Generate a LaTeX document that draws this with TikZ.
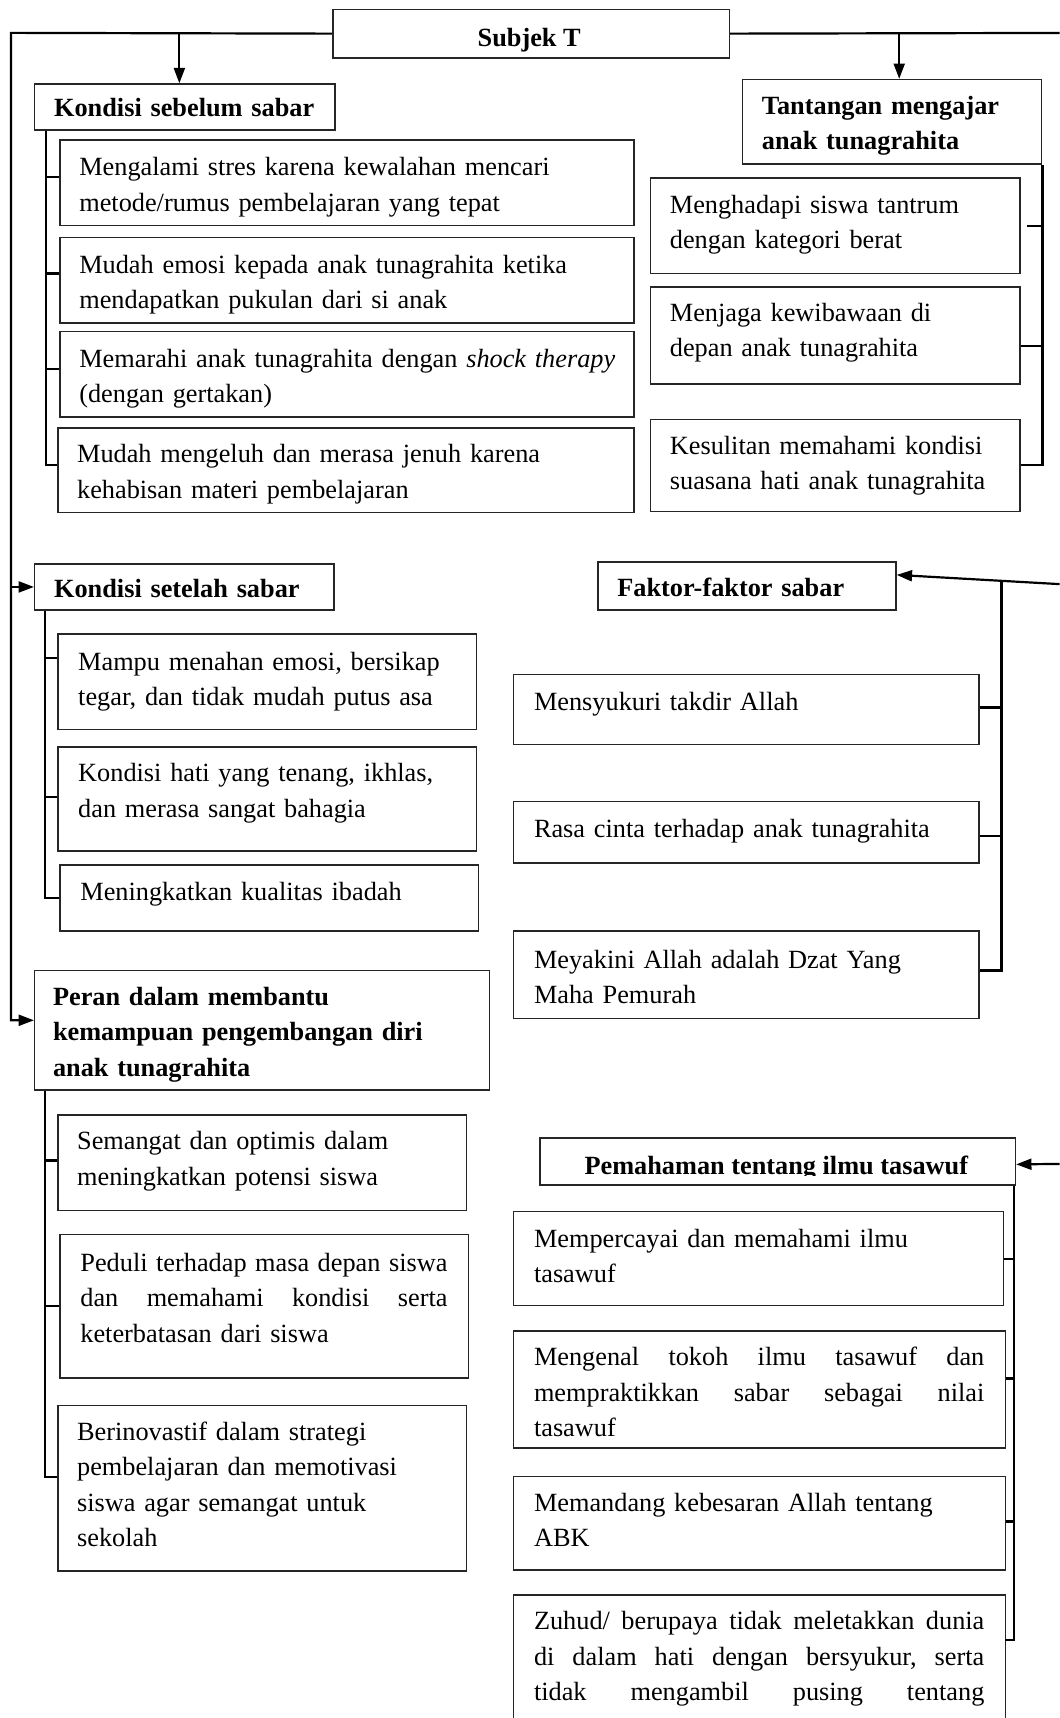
\documentclass[tikz,border=0pt]{standalone}
\usepackage{fontspec}
\setmainfont{Liberation Serif}
\usetikzlibrary{arrows.meta}
\tikzset{
 bx/.style={draw=black!85, line width=0.7pt, inner sep=0pt, anchor=north west},
 tx/.style={inner sep=0pt, anchor=base west, text width=300pt, align=left, yshift=-1.25pt, font=\fontsize{12pt}{16.15pt}\selectfont},
 hd/.style={tx, font=\fontsize{12pt}{16.15pt}\selectfont\bfseries},
 conn/.style={line width=1pt, black},
 arr/.style={-{Triangle[length=7pt,width=5pt]}},
}
\newcommand\mkbox[5]{\node[bx, minimum width={(#4-#2)*0.5pt}, minimum height={(#5-#3)*0.5pt}] (#1) at (#2,#3) {};}
\newcommand\jl[2]{\makebox[#1][l]{#2}}
\begin{document}
\begin{tikzpicture}[x=0.5pt,y=-0.5pt]
\useasboundingbox (0,0) rectangle (967,1568);
\clip (0,0) rectangle (967,1568);
% boxes
\mkbox{subj}{303}{8}{665}{52}
\mkbox{ks}{31}{76}{305}{118}
\mkbox{b1}{54}{127}{578}{205}
\mkbox{b2}{54}{216}{578}{294}
\mkbox{b3}{54}{302}{578}{380}
\mkbox{b4}{52}{390}{578}{467}
\mkbox{tan}{677}{72}{950}{149}
\mkbox{r1}{593}{162}{930}{249}
\mkbox{r2}{593}{261}{930}{350}
\mkbox{r3}{593}{382}{930}{466}
\mkbox{ksa}{31}{514}{304}{556}
\mkbox{s1}{52}{578}{434}{665}
\mkbox{s2}{52}{681}{434}{776}
\mkbox{s3}{54}{789}{436}{849}
\mkbox{per}{31}{885}{446}{994}
\mkbox{p1}{52}{1017}{425}{1104}
\mkbox{p2}{54}{1126}{427}{1257}
\mkbox{p3}{52}{1282}{425}{1433}
\mkbox{fak}{545}{512}{817}{556}
\mkbox{f1}{468}{615}{893}{679}
\mkbox{f2}{468}{731}{893}{787}
\mkbox{f3}{468}{849}{893}{929}
\mkbox{pem}{492}{1038}{926}{1081}
\mkbox{t1}{468}{1105}{915}{1191}
\mkbox{t2}{468}{1214}{917}{1321}
\mkbox{t3}{468}{1347}{917}{1432}
\mkbox{t4}{468}{1455}{917}{1640}
% texts
\node[inner sep=0pt, anchor=base, font=\fontsize{12pt}{16.15pt}\selectfont\bfseries] (subjt) at (483,42) {Subjek T};
\node[hd] (kst) at (49,104) {Kondisi sebelum sabar};
\node[tx] (b1t) at (72,158) {Mengalami stres karena kewalahan mencari\\metode/rumus pembelajaran yang tepat};
\node[tx] (b2t) at (72,247) {Mudah emosi kepada anak tunagrahita ketika\\mendapatkan pukulan dari si anak};
\node[tx] (b3t) at (72,333) {Memarahi anak tunagrahita dengan \textit{shock therapy}\\(dengan gertakan)};
\node[tx] (b4t) at (70,420) {Mudah mengeluh dan merasa jenuh karena\\kehabisan materi pembelajaran};
\node[hd] (tant) at (695,102) {Tantangan mengajar\\anak tunagrahita};
\node[tx] (r1t) at (611,192) {Menghadapi siswa tantrum\\dengan kategori berat};
\node[tx] (r2t) at (611,291) {Menjaga kewibawaan di\\depan anak tunagrahita};
\node[tx] (r3t) at (611,412) {Kesulitan memahami kondisi\\suasana hati anak tunagrahita};
\node[hd] (ksat) at (49,543) {Kondisi setelah sabar};
\node[tx] (s1t) at (71,609) {Mampu menahan emosi, bersikap\\tegar, dan tidak mudah putus asa};
\node[tx] (s2t) at (71,711) {Kondisi hati yang tenang, ikhlas,\\dan merasa sangat bahagia};
\node[tx] (s3t) at (73,819) {Meningkatkan kualitas ibadah};
\node[hd] (pert) at (48,915) {Peran dalam membantu\\kemampuan pengembangan diri\\anak tunagrahita};
\node[tx] (p1t) at (70,1047) {Semangat dan optimis dalam\\meningkatkan potensi siswa};
\node[tx] (p2t) at (73,1158) {\jl{167.5pt}{Peduli\hfill terhadap\hfill masa\hfill depan\hfill siswa}\\\jl{167.5pt}{dan\hfill memahami\hfill kondisi\hfill serta}\\keterbatasan dari siswa};
\node[tx] (p3t) at (70,1312) {Berinovastif dalam strategi\\pembelajaran dan memotivasi\\siswa agar semangat untuk\\sekolah};
\node[hd] (fakt) at (563,542) {Faktor-faktor sabar};
\node[tx] (f1t) at (487,646) {Mensyukuri takdir Allah};
\node[tx] (f2t) at (487,762) {Rasa cinta terhadap anak tunagrahita};
\node[tx] (f3t) at (487,881) {Meyakini Allah adalah Dzat Yang\\Maha Pemurah};
\begin{scope}
\clip (494,1040) rectangle (924,1073);
\node[inner sep=0pt, anchor=base, font=\fontsize{12pt}{16.15pt}\selectfont\bfseries] (pemt) at (708.5,1071.5) {Pemahaman tentang ilmu tasawuf};
\end{scope}
\node[tx] (t1t) at (487,1136) {Mempercayai dan memahami ilmu\\tasawuf};
\node[tx] (t2t) at (487,1244) {\jl{205.5pt}{Mengenal\hfill tokoh\hfill ilmu\hfill tasawuf\hfill dan}\\\jl{205.5pt}{mempraktikkan\hfill sabar\hfill sebagai\hfill nilai}\\tasawuf};
\node[tx] (t3t) at (487,1377) {Memandang kebesaran Allah tentang\\ABK};
\node[tx] (t4t) at (487,1485) {\jl{205.5pt}{Zuhud/\hfill berupaya\hfill tidak\hfill meletakkan\hfill dunia}\\\jl{205.5pt}{di\hfill dalam\hfill hati\hfill dengan\hfill bersyukur,\hfill serta}\\\jl{205.5pt}{tidak\hfill mengambil\hfill pusing\hfill tentang}};
% coordinates
\coordinate (ltop) at (10,30);
\coordinate (rtop) at (995,30);
\coordinate (fr) at (995,534.7);
\coordinate (pr) at (995,1062);
\coordinate (fvt) at (914,529.8);
% main connectors
\draw[conn, arr] (subj.west) -- (ltop) |- ([yshift=4.5pt]per.west);
\draw[conn, arr] (ltop |- ksa.west) -- (ksa.west);
\draw[conn, arr] ([xshift=-2.5pt]ks.north |- subj.west) -- ([xshift=-2.5pt]ks.north);
\draw[conn] (subj.east) -- (rtop);
\draw[conn, arr] ([xshift=3.25pt]tan.north |- subj.east) -- ([xshift=3.25pt]tan.north);
\draw[conn, arr] (fr) -- ([yshift=5pt]fak.east);
\draw[conn, arr] (pr) -- ([yshift=-1.25pt]pem.east);
% Kondisi sebelum tree
\coordinate (ksv) at ([xshift=5.5pt]ks.south west);
\coordinate (b1b) at ([yshift=2.5pt]b1.west);
\coordinate (b2b) at ([yshift=3pt]b2.west);
\coordinate (b3b) at ([yshift=2.5pt]b3.west);
\draw[conn] (ksv) |- ([yshift=2.25pt]b4.west);
\draw[conn] (b1b) -- (b1b -| ksv);
\draw[conn] (b2b) -- (b2b -| ksv);
\draw[conn] (b3b) -- (b3b -| ksv);
% Tantangan tree
\coordinate (r1b) at ([xshift=3pt]r1.east);
\coordinate (r2b) at ([yshift=-4.75pt]r2.east);
\draw[conn] (tan.south east) |- (r3.east);
\draw[conn] (r1b) -- (r1b -| tan.south east);
\draw[conn] (r2b) -- (r2b -| tan.south east);
% Kondisi setelah tree
\coordinate (ksav) at ([xshift=5pt]ksa.south west);
\coordinate (s1b) at ([yshift=10.75pt]s1.west);
\coordinate (s2b) at ([yshift=0.75pt]s2.west);
\draw[conn] (ksav) |- (s3.west);
\draw[conn] (s1b) -- (s1b -| ksav);
\draw[conn] (s2b) -- (s2b -| ksav);
% Peran tree
\coordinate (perv) at ([xshift=5pt]per.south west);
\coordinate (p1b) at ([yshift=1pt]p1.west);
\coordinate (p2b) at (p2.west);
\draw[conn] (perv) |- ([yshift=5.25pt]p3.west);
\draw[conn] (p1b) -- (p1b -| perv);
\draw[conn] (p2b) -- (p2b -| perv);
% Faktor tree
\coordinate (f1b) at ([yshift=1pt]f1.east);
\coordinate (f2b) at ([yshift=-1.5pt]f2.east);
\draw[conn] (fvt) |- ([yshift=2pt]f3.east);
\draw[conn] (f1b) -- (f1b -| fvt);
\draw[conn] (f2b) -- (f2b -| fvt);
% Pemahaman tree
\coordinate (pemv) at ([xshift=-1pt]pem.south east);
\coordinate (t1b) at (t1.east);
\coordinate (t2b) at ([yshift=5pt]t2.east);
\coordinate (t3b) at ([yshift=0.75pt]t3.east);
\coordinate (t4b) at (917,1497);
\draw[conn] (pemv) |- (t4b);
\draw[conn] (t1b) -- (t1b -| pemv);
\draw[conn] (t2b) -- (t2b -| pemv);
\draw[conn] (t3b) -- (t3b -| pemv);
\end{tikzpicture}
\end{document}
